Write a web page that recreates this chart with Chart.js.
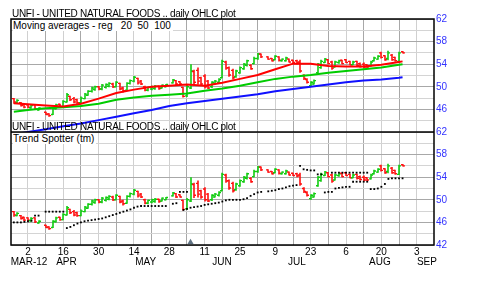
<!DOCTYPE html>
<html>
<head>
<meta charset="utf-8">
<script src="https://cdn.jsdelivr.net/npm/chart.js@4/dist/chart.umd.min.js"></script>
<style>
    body { margin: 0; background: #fff; }
    #wrap { position: relative; width: 480px; height: 282px; font-family: 'Liberation Sans', Arial, sans-serif; }
    .lbl { position: absolute; font-size: 10px; line-height: 11px; color: #000; white-space: pre; }
    .ttl { letter-spacing: -0.3px; }
    .box { background: #fff; padding-right: 2px; }
</style>
</head>
<body>
<div id="wrap">
    <canvas id="chart" width="480" height="282"></canvas>
    <div class="lbl ttl" style="left:12px;top:8px">UNFI - UNITED NATURAL FOODS .. daily OHLC plot</div>
    <div class="lbl ttl" style="left:12px;top:121px">UNFI - UNITED NATURAL FOODS .. daily OHLC plot</div>
    <div class="lbl box" style="left:13px;top:20px">Moving averages - reg   20  50  100</div>
    <div class="lbl box" style="left:13px;top:133px">Trend Spotter (tm)</div>
</div>
<script>
// weekday index, 0 = monday 2 apr 2012, holidays are null
const startDay = -4;
const opens  = [47.9,47.2,47.2,46.9,46.8,46.3,46.8,45.9,null,45.5,45.2,45.1,46.1,46.9,46.5,47.3,48.3,47.9,47.7,47.2,47.9,48.5,49.2,49.5,50.0,49.6,49.9,50.1,50.5,50.0,50.6,49.8,49.4,50.6,51.0,51.5,51.0,50.0,49.4,49.6,49.7,50.1,49.8,50.0,null,50.7,51.1,50.9,49.9,48.4,49.8,52.7,52.9,51.6,51.9,51.0,50.0,50.5,50.8,51.6,54.4,53.4,52.9,51.8,52.5,53.2,53.8,53.8,54.1,55.0,55.8,null,55.3,55.0,54.8,55.3,54.6,54.6,54.9,54.7,54.6,54.4,52.0,51.3,50.2,50.5,52.5,53.4,54.3,54.8,54.4,53.5,54.3,54.7,54.8,54.5,53.9,54.5,54.1,54.0,53.9,53.7,54.6,54.9,56.0,55.5,55.0,55.6,55.2,54.5,56.2];
const highs  = [48.0,47.8,47.3,47.0,46.9,46.9,46.9,46.4,null,45.6,45.3,46.4,47.0,47.0,47.6,48.9,48.4,48.2,47.9,48.3,48.9,49.4,50.0,50.2,50.1,50.5,50.6,50.8,50.7,51.0,50.7,50.0,50.8,51.3,51.9,51.6,51.2,50.2,50.0,50.2,50.3,50.2,50.4,50.5,null,51.4,51.2,51.0,50.0,50.3,54.0,53.0,53.4,51.8,52.2,51.2,51.0,51.2,51.5,54.8,54.6,53.6,53.2,53.0,53.6,54.2,54.8,54.0,55.3,56.0,55.9,null,55.4,55.1,55.6,55.4,55.0,55.3,55.0,54.8,54.8,54.8,52.2,51.5,51.0,51.3,54.2,54.8,55.1,54.9,54.6,54.6,54.8,54.8,54.9,54.6,54.6,54.6,54.3,54.3,54.0,54.6,55.3,55.6,56.2,55.6,56.4,55.8,55.3,56.2,56.3];
const lows   = [47.0,47.1,46.5,46.2,46.2,46.1,45.9,45.8,null,45.0,44.7,45.0,46.0,46.3,46.4,47.2,47.5,47.1,47.0,47.1,47.8,48.4,49.0,49.3,49.4,49.4,49.7,49.9,49.8,49.9,49.4,49.0,49.3,50.4,50.8,50.4,50.3,49.2,49.2,49.4,49.5,49.5,49.7,49.9,null,50.6,50.3,50.4,48.1,48.2,49.6,50.3,50.4,50.2,49.7,49.6,49.8,50.4,50.6,51.5,53.0,51.8,51.3,51.6,52.3,53.0,53.6,53.0,54.0,54.8,55.1,null,54.8,54.5,54.7,54.5,54.5,54.5,54.3,54.2,54.0,52.5,51.2,50.6,50.0,50.4,52.3,53.2,54.2,54.0,53.0,53.4,54.1,54.0,54.2,53.8,53.8,53.6,53.4,53.3,53.3,53.6,54.5,54.8,55.0,54.6,54.7,54.6,54.5,54.4,55.9];
const closes = [47.3,47.6,46.7,46.4,46.4,46.7,46.1,46.2,null,45.1,44.9,46.2,46.8,46.5,47.4,48.6,47.7,47.3,47.2,48.0,48.7,49.2,49.8,50.0,49.6,50.3,50.4,50.6,50.0,50.8,49.6,49.3,50.6,51.1,51.7,50.7,50.5,49.4,49.9,50.0,50.1,49.7,50.3,50.4,null,51.2,50.5,50.5,48.3,50.0,52.8,50.8,51.0,50.5,50.0,49.8,50.8,51.0,51.3,54.5,53.3,52.1,51.6,52.8,53.4,54.0,54.6,53.2,55.0,55.8,55.3,null,54.9,54.6,55.4,54.7,54.9,55.1,54.4,54.3,54.2,52.8,51.5,50.8,50.8,51.1,54.0,54.5,54.9,54.1,53.3,54.4,54.6,54.1,54.3,53.9,54.4,53.8,53.6,53.5,53.5,54.4,55.1,55.4,55.2,54.8,56.0,54.8,54.6,56.0,56.0];

// trend spotter stops, below and above the price
const tsBelow = [46.0,46.0,46.0,46.1,46.2,46.3,null,null,null,null,null,null,null,null,null,45.0,45.2,45.5,45.8,46.0,46.2,46.3,46.4,46.5,46.6,46.7,46.9,47.1,47.3,47.5,47.7,47.9,48.1,48.3,48.6,48.8,48.9,48.9,48.9,48.9,48.9,48.9,48.9,48.9,null,49.3,49.4,null,48.2,48.4,48.6,48.7,48.8,48.9,49.1,49.2,49.3,49.4,49.5,49.7,49.9,50.0,50.0,50.0,50.0,50.1,50.3,50.7,51.0,51.3,51.4,null,51.5,51.6,51.7,51.9,52.0,52.2,52.4,52.5,52.6,null,null,null,null,null,null,null,51.3,51.4,51.4,52.0,52.1,52.2,52.3,52.3,53.2,53.2,53.2,53.2,53.2,51.9,51.9,52.0,52.3,52.8,53.7,53.8,53.8,53.8,53.8];
const tsAbove = [null,null,null,null,null,null,47.2,47.2,null,47.9,47.9,47.9,47.9,47.9,47.9,null,null,null,null,null,null,null,null,null,null,null,null,null,null,null,null,null,null,null,null,null,null,null,null,null,null,null,null,null,null,null,null,51.4,51.4,51.4,null,null,null,null,null,null,null,null,null,null,null,null,null,null,null,null,null,null,null,null,null,null,null,null,null,null,null,null,null,null,null,56.0,55.4,55.3,55.2,55.2,54.5,54.5,null,null,54.8,54.8,54.8,54.8,54.8,54.8,54.8,54.8,54.8,54.8,54.8,null,null,null,null,null,null,null,null,null,null];

// moving averages read every week
const maDays = [-4,0,5,10,15,20,25,30,35,40,45,50,55,60,65,70,75,80,85,90,95,100,105,106];
const ma20  = [47.1,46.9,46.7,46.5,47.0,47.9,48.9,49.5,50.0,50.2,50.4,50.2,50.7,51.4,52.1,53.1,54.1,54.1,53.7,53.6,53.6,53.9,54.4,54.5];
const ma50  = [45.6,45.9,46.2,46.4,46.6,47.0,47.7,48.1,48.4,48.6,48.8,49.3,49.7,50.2,50.8,51.4,51.8,52.1,52.5,52.8,53.1,53.4,53.9,54.0];
const ma100 = [41.6,42.0,42.5,43.0,43.5,44.1,44.7,45.3,45.9,46.6,47.1,47.5,47.9,48.3,48.7,49.2,49.6,50.0,50.4,50.8,51.1,51.3,51.6,51.7];

const eventDays = [46];
const eventLevel = 42.5;

// axis labels
const dayTicks = [0,10,20,30,40,50,60,70,80,90,100,110];
const dayLabels = ['2','16','30','14','28','11','25','9','23','6','20','3'];
const monthTicks = [0.3,10.9,33.3,54.9,76.1,99.6,112.9];
const monthLabels = ['MAR-12','APR','MAY','JUN','JUL','AUG','SEP'];
const priceTicks = [42,44,46,48,50,52,54,56,58,60,62];

const GREEN = '#10cc10';
const RED = '#ff1010';
const days = opens.map((v, k) => startDay + k);

function points(values, xs) {
    const out = [];
    values.forEach((v, k) => {
        if (v !== null) out.push({x: xs[k], y: v});
    });
    return out;
}

const ohlcPlugin = {
    id: 'ohlc',
    beforeDatasetsDraw(chart) {
        const ctx = chart.ctx;
        const xs = chart.scales.x;
        ctx.save();
        ['yTop', 'yBot'].forEach(id => {
            const ys = chart.scales[id];
            days.forEach((d, k) => {
                if (highs[k] === null) return;
                const px = Math.round(xs.getPixelForValue(d));
                ctx.strokeStyle = closes[k] >= opens[k] ? GREEN : RED;
                ctx.lineWidth = 1.6;
                ctx.beginPath();
                ctx.moveTo(px, ys.getPixelForValue(highs[k]));
                ctx.lineTo(px, ys.getPixelForValue(lows[k]));
                ctx.stroke();
                ctx.lineWidth = 1.4;
                ctx.beginPath();
                const po = ys.getPixelForValue(opens[k]);
                const pc = ys.getPixelForValue(closes[k]);
                ctx.moveTo(px - 2, po); ctx.lineTo(px, po);
                ctx.moveTo(px, pc); ctx.lineTo(px + 2, pc);
                ctx.stroke();
            });
        });
        ctx.restore();
    }
};

const framePlugin = {
    id: 'frame',
    afterDraw(chart) {
        const a = chart.chartArea;
        const mid = chart.scales.yTop.bottom;
        const ctx = chart.ctx;
        ctx.save();
        ctx.strokeStyle = '#000';
        ctx.lineWidth = 1.5;
        ctx.strokeRect(a.left, a.top, a.right - a.left, a.bottom - a.top);
        ctx.beginPath();
        ctx.moveTo(a.left, mid);
        ctx.lineTo(a.right, mid);
        ctx.stroke();
        ctx.restore();
    }
};

function yAxis(hideBottom) {
    return {
        type: 'linear',
        position: 'right',
        stack: 'panels',
        stackWeight: 1,
        min: 42,
        max: 62,
        afterFit: (s) => { s.width = 46; },
        afterBuildTicks: (s) => { s.ticks = priceTicks.map(v => ({ value: v })); },
        border: { display: false },
        grid: {
            drawTicks: false,
            color: (c) => ((c.tick.value - 42) % 4 === 0 ? '#a8a8a8' : '#d4d4d4')
        },
        ticks: {
            autoSkip: false,
            padding: 2,
            color: '#3333ff',
            font: { size: 10 },
            callback: (v) => {
                if (hideBottom && v === 42) return '';
                return (v - 42) % 4 === 0 ? String(v) : '';
            }
        }
    };
}

Chart.defaults.font.family = "'Liberation Sans', Arial, sans-serif";

const ctx = document.getElementById('chart').getContext('2d');
new Chart(ctx, {
    type: 'line',
    data: {
        datasets: [
            { label: 'MA 20', data: points(ma20, maDays), yAxisID: 'yTop', borderColor: '#ff0000', borderWidth: 2, pointRadius: 0 },
            { label: 'MA 50', data: points(ma50, maDays), yAxisID: 'yTop', borderColor: '#00cc00', borderWidth: 2, pointRadius: 0 },
            { label: 'MA 100', data: points(ma100, maDays), yAxisID: 'yTop', borderColor: '#1010ff', borderWidth: 2, pointRadius: 0 },
            { type: 'scatter', label: 'stop below', data: points(tsBelow, days), yAxisID: 'yBot', pointStyle: 'rect', pointRadius: 1.3, backgroundColor: '#000', borderWidth: 0 },
            { type: 'scatter', label: 'stop above', data: points(tsAbove, days), yAxisID: 'yBot', pointStyle: 'rect', pointRadius: 1.3, backgroundColor: '#000', borderWidth: 0 },
            { type: 'scatter', label: 'event', data: eventDays.map(d => ({x: d, y: eventLevel})), yAxisID: 'yBot', pointStyle: 'triangle', pointRadius: 3.5, backgroundColor: '#5f7283', borderWidth: 0 }
        ]
    },
    options: {
        responsive: false,
        animation: false,
        devicePixelRatio: 1,
        layout: { padding: { left: 11, top: 19, right: 0, bottom: 0 } },
        plugins: { legend: { display: false }, tooltip: { enabled: false } },
        scales: {
            x: {
                type: 'linear',
                position: 'bottom',
                min: -4.8,
                max: 114.9,
                afterFit: (s) => { s.height = 11; },
                afterBuildTicks: (s) => {
                    const t = [];
                    for (let v = 0; v <= 110; v += 5) t.push({ value: v });
                    s.ticks = t;
                },
                border: { display: false },
                grid: {
                    drawTicks: false,
                    color: (c) => (c.tick.value % 10 === 0 ? '#d0d0d0' : '#a8a8a8')
                },
                ticks: {
                    autoSkip: false,
                    maxRotation: 0,
                    padding: 1,
                    color: '#000',
                    font: { size: 10 },
                    callback: (v) => {
                        const k = dayTicks.indexOf(v);
                        return k >= 0 ? dayLabels[k] : '';
                    }
                }
            },
            x2: {
                type: 'linear',
                position: 'bottom',
                min: -4.8,
                max: 114.9,
                afterFit: (s) => { s.height = 26; },
                afterBuildTicks: (s) => { s.ticks = monthTicks.map(v => ({ value: v })); },
                border: { display: false },
                grid: { display: false, drawTicks: false },
                ticks: {
                    autoSkip: false,
                    maxRotation: 0,
                    padding: 0,
                    color: '#000',
                    font: { size: 10 },
                    callback: (v) => {
                        const k = monthTicks.indexOf(v);
                        return k >= 0 ? monthLabels[k] : '';
                    }
                }
            },
            yTop: yAxis(true),
            yBot: yAxis(false)
        }
    },
    plugins: [ohlcPlugin, framePlugin]
});
</script>
</body>
</html>
